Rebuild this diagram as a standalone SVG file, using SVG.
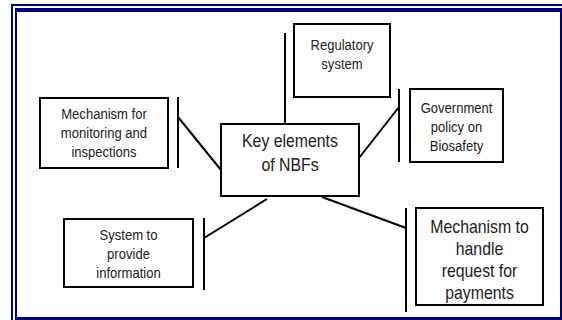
<svg xmlns="http://www.w3.org/2000/svg" width="562" height="320" viewBox="0 0 562 320">
<style>
.box{fill:#fff;stroke:#000;stroke-width:2}
.ln{stroke:#000;stroke-width:2;fill:none}
.frame{stroke:#000080;fill:none}
text{font-family:"Liberation Sans",Arial,sans-serif;fill:#222;text-anchor:middle}
.s{font-size:15px}
.l{font-size:18px}
</style>
<rect width="562" height="320" fill="#fff"/>
<g id="frame">
<path class="frame" stroke-width="2" d="M12 320 V5 H562"/>
<path class="frame" stroke-width="4" d="M16 10 H562"/>
<path class="frame" stroke-width="2" d="M16 8 V318"/>
<path class="frame" stroke-width="3" d="M15 318.5 H562"/>
<path class="frame" stroke-width="2" d="M561 8 V320"/>
</g>
<g id="connectors">
<line class="ln" x1="285" y1="33" x2="285" y2="124"/>
<line class="ln" x1="178" y1="97" x2="178" y2="168"/>
<line class="ln" x1="178" y1="117" x2="221" y2="170"/>
<line class="ln" x1="399" y1="89" x2="399" y2="162"/>
<line class="ln" x1="399" y1="107" x2="359" y2="158"/>
<line class="ln" x1="204" y1="218" x2="204" y2="290"/>
<line class="ln" x1="267" y1="199" x2="204" y2="238"/>
<line class="ln" x1="406" y1="208" x2="406" y2="312"/>
<line class="ln" x1="322" y1="197" x2="406" y2="228"/>
</g>
<g id="regulatory">
<rect class="box" x="294" y="24" width="96" height="73"/>
<g transform="translate(342 0) scale(0.87 1)">
<text class="s" x="0" y="50">Regulatory</text>
<text class="s" x="0" y="69">system</text>
</g>
</g>
<g id="monitoring">
<rect class="box" x="40" y="98" width="128" height="70"/>
<g transform="translate(104 0) scale(0.87 1)">
<text class="s" x="0" y="119">Mechanism for</text>
<text class="s" x="0" y="138">monitoring and</text>
<text class="s" x="0" y="157">inspections</text>
</g>
</g>
<g id="central">
<rect class="box" x="221" y="124" width="138" height="72"/>
<g transform="translate(290 0) scale(0.88 1)">
<text class="l" x="0" y="147">Key elements</text>
<text class="l" x="0" y="171">of NBFs</text>
</g>
</g>
<g id="government">
<rect class="box" x="410" y="89" width="93" height="73"/>
<g transform="translate(456.5 0) scale(0.87 1)">
<text class="s" x="0" y="113">Government</text>
<text class="s" x="0" y="132">policy on</text>
<text class="s" x="0" y="151">Biosafety</text>
</g>
</g>
<g id="information">
<rect class="box" x="64" y="219" width="129" height="68"/>
<g transform="translate(128.5 0) scale(0.87 1)">
<text class="s" x="0" y="240">System to</text>
<text class="s" x="0" y="259">provide</text>
<text class="s" x="0" y="278">information</text>
</g>
</g>
<g id="payments">
<rect class="box" x="416" y="208" width="127" height="97"/>
<g transform="translate(479.5 0) scale(0.88 1)">
<text class="l" x="0" y="233">Mechanism to</text>
<text class="l" x="0" y="255">handle</text>
<text class="l" x="0" y="277">request for</text>
<text class="l" x="0" y="299">payments</text>
</g>
</g>
</svg>
